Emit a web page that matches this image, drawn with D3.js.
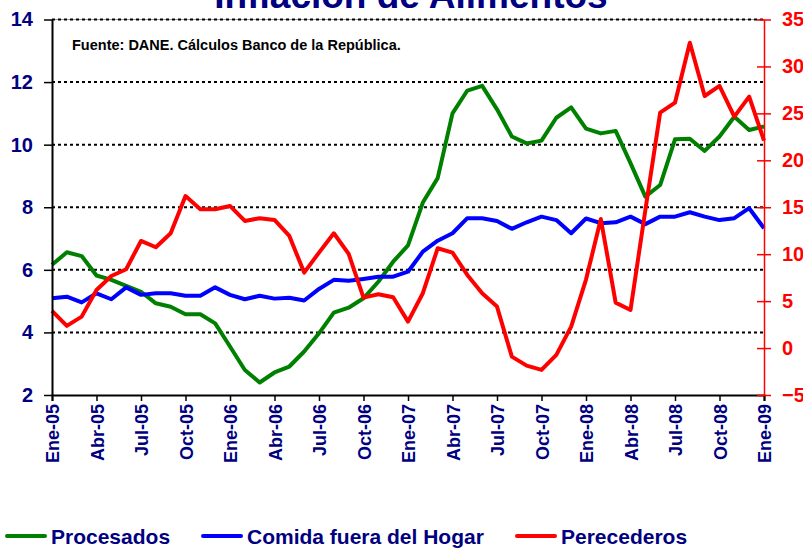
<!DOCTYPE html>
<html>
<head>
<meta charset="utf-8">
<script src="https://cdn.jsdelivr.net/npm/d3@7"></script>
<style>
  body { margin: 0; background: #fff; }
  svg { display: block; font-family: "Liberation Sans", Arial, sans-serif; }
</style>
</head>
<body>
<svg id="chart" width="803" height="552"></svg>
<script>
// Meses (categorías del eje X)
const meses = [
  "Ene-05","Feb-05","Mar-05","Abr-05","May-05","Jun-05","Jul-05","Ago-05","Sep-05","Oct-05","Nov-05","Dic-05",
  "Ene-06","Feb-06","Mar-06","Abr-06","May-06","Jun-06","Jul-06","Ago-06","Sep-06","Oct-06","Nov-06","Dic-06",
  "Ene-07","Feb-07","Mar-07","Abr-07","May-07","Jun-07","Jul-07","Ago-07","Sep-07","Oct-07","Nov-07","Dic-07",
  "Ene-08","Feb-08","Mar-08","Abr-08","May-08","Jun-08","Jul-08","Ago-08","Sep-08","Oct-08","Nov-08","Dic-08",
  "Ene-09"
];
// Etiquetas visibles en el eje X (cada trimestre)
const etiquetasX = ["Ene-05","Abr-05","Jul-05","Oct-05","Ene-06","Abr-06","Jul-06","Oct-06",
  "Ene-07","Abr-07","Jul-07","Oct-07","Ene-08","Abr-08","Jul-08","Oct-08","Ene-09"];
// Eje izquierdo y derecho
const ticksIzq = [2, 4, 6, 8, 10, 12, 14];
const ticksDer = [-5, 0, 5, 10, 15, 20, 25, 30, 35];

// Series (eje izquierdo)
const procesados = [6.16,6.56,6.44,5.82,5.68,5.49,5.30,4.93,4.82,4.58,4.58,4.29,
  3.55,2.80,2.40,2.72,2.91,3.39,3.97,4.63,4.79,5.09,5.62,6.26,
  6.78,8.15,8.93,11.00,11.73,11.88,11.13,10.26,10.04,10.13,10.86,11.19,
  10.51,10.36,10.44,9.41,8.34,8.71,10.17,10.19,9.80,10.26,10.89,10.47,
  10.58];
const comidaFuera = [5.09,5.14,4.96,5.25,5.06,5.44,5.20,5.25,5.25,5.17,5.17,5.44,
  5.20,5.06,5.17,5.08,5.11,5.02,5.39,5.68,5.65,5.71,5.78,5.78,
  5.94,6.58,6.93,7.17,7.65,7.65,7.56,7.31,7.52,7.70,7.59,7.17,
  7.64,7.49,7.52,7.70,7.46,7.70,7.70,7.84,7.70,7.59,7.65,7.97,
  7.33];
// Serie (eje derecho)
const perecederos = [3.96,2.36,3.35,6.19,7.68,8.40,11.41,10.74,12.23,16.20,14.79,14.79,
  15.14,13.54,13.83,13.65,11.94,8.04,10.17,12.23,10.03,5.37,5.73,5.41,
  2.82,5.84,10.63,10.17,7.79,5.84,4.42,-0.91,-1.87,-2.33,-0.73,2.29,
  7.30,13.75,4.84,4.06,14.68,25.08,26.14,32.53,26.85,27.92,24.65,26.78,
  22.10];

const series = [
  { nombre: "Procesados", valores: procesados, color: "#008000", eje: "izq" },
  { nombre: "Comida fuera del Hogar", valores: comidaFuera, color: "#0000ff", eje: "izq" },
  { nombre: "Perecederos", valores: perecederos, color: "#ff0000", eje: "der" }
];

const navy = "#000080";
const svg = d3.select("#chart");
const m = { top: 19.5, right: 39, bottom: 157, left: 52 };
const W = 803, H = 552;
const width = W - m.left - m.right;
const height = H - m.top - m.bottom;

const x = d3.scaleLinear().domain([0, meses.length - 1]).range([0, width]);
const yL = d3.scaleLinear().domain([2, 14]).range([height, 0]);
const yR = d3.scaleLinear().domain([-5, 35]).range([height, 0]);

// Título (cortado en la parte superior)
svg.append("text")
  .attr("x", 411).attr("y", 8)
  .attr("text-anchor", "middle")
  .attr("font-size", 37).attr("font-weight", "bold")
  .attr("fill", navy)
  .text("Inflación de Alimentos");

const g = svg.append("g").attr("transform", `translate(${m.left},${m.top})`);

// Líneas de cuadrícula punteadas
g.append("line")
  .attr("x1", 0).attr("x2", width).attr("y1", 0).attr("y2", 0)
  .attr("stroke", "#999").attr("stroke-width", 1);
g.append("g").selectAll("line")
  .data(ticksIzq.filter(d => d > 2))
  .join("line")
    .attr("x1", 0).attr("x2", width)
    .attr("y1", d => yL(d)).attr("y2", d => yL(d))
    .attr("stroke", "#000").attr("stroke-width", 2)
    .attr("stroke-dasharray", "3,3");

// Fuente
g.append("text")
  .attr("x", 20).attr("y", 30.5)
  .attr("font-size", 14.5).attr("font-weight", "bold")
  .attr("fill", "#000")
  .text("Fuente: DANE. Cálculos Banco de la República.");

// Series
const linea = eje => d3.line()
  .x((d, i) => x(i))
  .y(d => (eje === "izq" ? yL : yR)(d));

g.append("g").selectAll("path")
  .data(series)
  .join("path")
    .attr("fill", "none")
    .attr("stroke", d => d.color)
    .attr("stroke-width", 4)
    .attr("stroke-linejoin", "round")
    .attr("d", d => linea(d.eje)(d.valores));

// Eje X
const axX = g.append("g")
  .attr("transform", `translate(0,${height})`)
  .call(d3.axisBottom(x)
    .tickValues(etiquetasX.map(e => meses.indexOf(e)))
    .tickFormat(i => meses[i])
    .tickSize(6).tickPadding(8));
axX.select(".domain").attr("stroke", "#000").attr("stroke-width", 2);
axX.selectAll(".tick line").attr("stroke", "#000").attr("stroke-width", 1.5);
axX.selectAll(".tick text")
  .attr("transform", "rotate(-90)")
  .attr("text-anchor", "end")
  .attr("x", -9).attr("y", 0).attr("dy", "0.38em")
  .attr("font-size", 18).attr("font-weight", "bold")
  .attr("font-family", "Liberation Sans, Arial, sans-serif")
  .attr("fill", navy);

// Eje izquierdo
const axL = g.append("g")
  .call(d3.axisLeft(yL).tickValues(ticksIzq).tickSize(8).tickPadding(11).tickSizeOuter(0));
axL.select(".domain").attr("stroke", "#000").attr("stroke-width", 2);
axL.selectAll(".tick line").attr("stroke", "#000").attr("stroke-width", 1.5);
axL.selectAll(".tick text")
  .attr("font-size", 20).attr("font-weight", "bold")
  .attr("font-family", "Liberation Sans, Arial, sans-serif")
  .attr("fill", navy);

// Eje derecho
const axR = g.append("g")
  .attr("transform", `translate(${width},0)`)
  .call(d3.axisRight(yR).tickValues(ticksDer).tickSize(7).tickPadding(11).tickSizeOuter(0));
axR.select(".domain").attr("stroke", "#ff0000").attr("stroke-width", 1.5);
axR.selectAll(".tick line").attr("stroke", "#ff0000").attr("stroke-width", 1.5).attr("x1", -7);
axR.selectAll(".tick text")
  .attr("font-size", 20).attr("font-weight", "bold")
  .attr("font-family", "Liberation Sans, Arial, sans-serif")
  .attr("fill", "#ff0000");

// Leyenda
const leyenda = svg.append("g").attr("transform", "translate(0,536)");
const posLeyenda = [7, 203, 517];
const items = leyenda.selectAll("g")
  .data(series)
  .join("g")
    .attr("transform", (d, i) => `translate(${posLeyenda[i]},0)`);
items.append("line")
  .attr("x1", 0).attr("x2", 38).attr("y1", 0).attr("y2", 0)
  .attr("stroke", d => d.color).attr("stroke-width", 4).attr("stroke-linecap", "round");
items.append("text")
  .attr("x", 44).attr("y", 0).attr("dy", "0.36em")
  .attr("font-size", 21).attr("font-weight", "bold")
  .attr("fill", navy)
  .text(d => d.nombre);
</script>
</body>
</html>
